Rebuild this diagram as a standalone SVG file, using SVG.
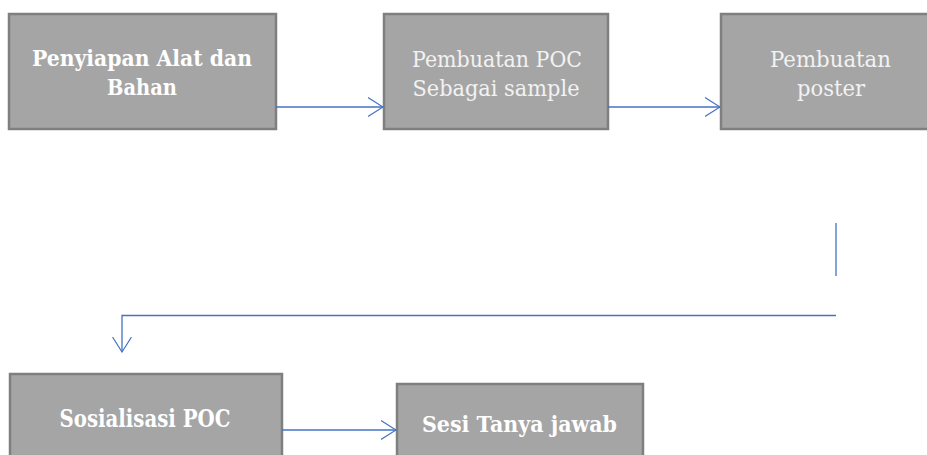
<svg xmlns="http://www.w3.org/2000/svg" width="927" height="455" viewBox="0 0 927 455">
<defs>
<style>
.box{fill:#a5a5a5;stroke:#7f7f7f;stroke-width:2.5}
.t{font-family:"DejaVu Serif","Liberation Serif",serif;fill:#ffffff;text-anchor:middle;font-size:22px}
.b{font-weight:bold}
.r{fill:#f2f2f2}
.c{fill:none;stroke:#4472c4;stroke-width:1.3}
</style>
<marker id="ah" viewBox="0 0 16 20" refX="15" refY="10" markerWidth="16" markerHeight="20" markerUnits="userSpaceOnUse" orient="auto">
<path d="M0,0.5 L15,10 L0,19.5" fill="none" stroke="#4472c4" stroke-width="1.2"/>
</marker>
</defs>
<g id="node1"><rect class="box" x="9" y="14" width="267" height="115"/>
<text class="t b" x="142" y="66" textLength="220" lengthAdjust="spacingAndGlyphs">Penyiapan Alat dan</text>
<text class="t b" x="142" y="95" textLength="70" lengthAdjust="spacingAndGlyphs">Bahan</text></g>
<g id="node2"><rect class="box" x="384" y="14" width="224" height="115"/>
<text class="t r" x="497" y="67" textLength="170" lengthAdjust="spacingAndGlyphs">Pembuatan POC</text>
<text class="t r" x="496" y="96" textLength="167" lengthAdjust="spacingAndGlyphs">Sebagai sample</text></g>
<g id="node3"><rect class="box" x="721" y="14" width="225" height="115"/>
<text class="t r" x="830.5" y="67" textLength="121" lengthAdjust="spacingAndGlyphs">Pembuatan</text>
<text class="t r" x="831" y="96" textLength="68" lengthAdjust="spacingAndGlyphs">poster</text></g>
<g id="node4"><rect class="box" x="10" y="374" width="272" height="100"/>
<text class="t b" x="145" y="427" style="font-size:24px" textLength="171" lengthAdjust="spacingAndGlyphs">Sosialisasi POC</text></g>
<g id="node5"><rect class="box" x="397" y="384" width="246" height="90"/>
<text class="t b" x="519.5" y="432" style="font-size:23px" textLength="195" lengthAdjust="spacingAndGlyphs">Sesi Tanya jawab</text></g>
<g id="connectors">
<line class="c" x1="276" y1="107" x2="383" y2="107" marker-end="url(#ah)"/>
<line class="c" x1="608" y1="107" x2="720" y2="107" marker-end="url(#ah)"/>
<line class="c" x1="836" y1="223" x2="836" y2="276"/>
<polyline class="c" points="836,315.5 122,315.5 122,352" marker-end="url(#ah)"/>
<line class="c" x1="282" y1="430" x2="396" y2="430" marker-end="url(#ah)"/>
</g>
</svg>
